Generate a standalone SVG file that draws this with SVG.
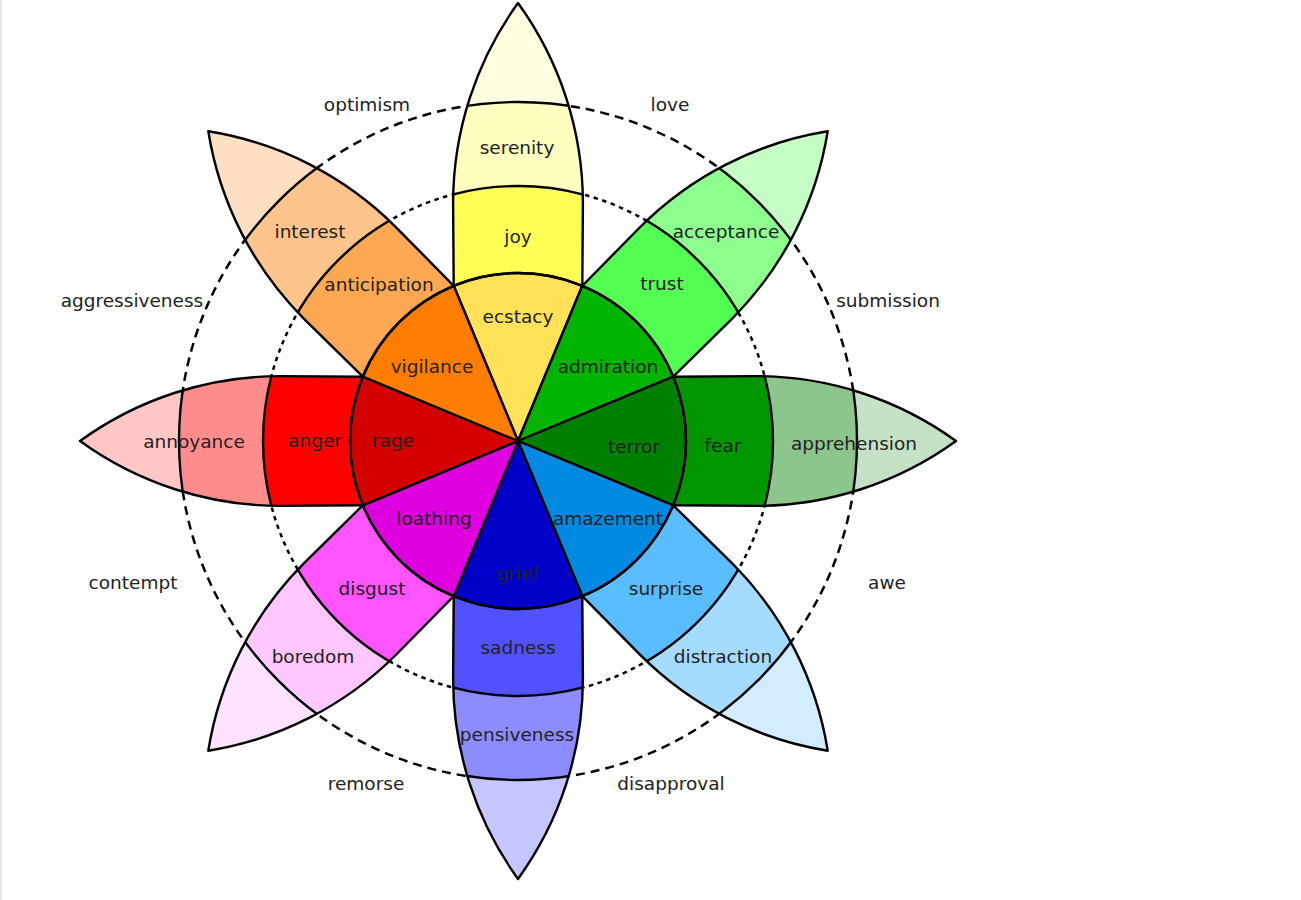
<svg xmlns="http://www.w3.org/2000/svg" xmlns:xlink="http://www.w3.org/1999/xlink" width="1301" height="900" viewBox="0 0 1301 900">
<style>
text{font-family:"DejaVu Sans","Liberation Sans",sans-serif;font-size:18.5px;fill:#222;text-anchor:middle}
.bd{fill:none;stroke:#000;stroke-width:2.4}
.ol{fill:none;stroke:#000;stroke-width:2.4;stroke-linejoin:round}
.wd{stroke:#000;stroke-width:2.4;stroke-linejoin:round}
.dash{fill:none;stroke:#000;stroke-width:2.5;stroke-dasharray:9 6}
.dot{fill:none;stroke:#000;stroke-width:2.5;stroke-dasharray:4.5 4.5}
</style>
<defs>
<path id="petal" d="M-64.29,-155.21 L-64.9,-237.7 A341.8,341.8 0 0 1 0,-438 A341.8,341.8 0 0 1 64.9,-237.7 L64.29,-155.21 Z"/>
<clipPath id="pc" clipPathUnits="userSpaceOnUse"><use xlink:href="#petal"/></clipPath>
<path id="wedge" d="M0,0 L-64.29,-155.21 A168,168 0 0 1 64.29,-155.21 Z"/>
</defs>
<rect x="0" y="0" width="1301" height="900" fill="#fff"/>
<line x1="0.8" y1="0" x2="0.8" y2="900" stroke="#e2ddd8" stroke-width="1.6"/>
<g id="guides">
<circle cx="518" cy="441" r="339" class="dash"/>
<circle cx="518" cy="441" r="255" class="dot"/>
</g>
<g id="petal-joy">
<g transform="translate(518 441) rotate(0)">
<use xlink:href="#petal" fill="#ffffdf"/>
<circle r="339" fill="#ffffc0" clip-path="url(#pc)"/>
<circle r="255" fill="#ffff54" clip-path="url(#pc)"/>
<circle r="339" class="bd" clip-path="url(#pc)"/>
<circle r="255" class="bd" clip-path="url(#pc)"/>
<use xlink:href="#petal" class="ol"/>
</g>
<text x="517" y="154">serenity</text>
<text x="518" y="243">joy</text>
</g>
<g id="petal-trust">
<g transform="translate(518 441) rotate(45)">
<use xlink:href="#petal" fill="#c6ffc6"/>
<circle r="339" fill="#8cff8c" clip-path="url(#pc)"/>
<circle r="255" fill="#54ff54" clip-path="url(#pc)"/>
<circle r="339" class="bd" clip-path="url(#pc)"/>
<circle r="255" class="bd" clip-path="url(#pc)"/>
<use xlink:href="#petal" class="ol"/>
</g>
<text x="726" y="238">acceptance</text>
<text x="662" y="290">trust</text>
</g>
<g id="petal-fear">
<g transform="translate(518 441) rotate(90)">
<use xlink:href="#petal" fill="#c6e2c6"/>
<circle r="339" fill="#8cc68c" clip-path="url(#pc)"/>
<circle r="255" fill="#009600" clip-path="url(#pc)"/>
<circle r="339" class="bd" clip-path="url(#pc)"/>
<circle r="255" class="bd" clip-path="url(#pc)"/>
<use xlink:href="#petal" class="ol"/>
</g>
<text x="723" y="452">fear</text>
<text x="854" y="450">apprehension</text>
</g>
<g id="petal-surprise">
<g transform="translate(518 441) rotate(135)">
<use xlink:href="#petal" fill="#d2edff"/>
<circle r="339" fill="#a5dbff" clip-path="url(#pc)"/>
<circle r="255" fill="#59bdff" clip-path="url(#pc)"/>
<circle r="339" class="bd" clip-path="url(#pc)"/>
<circle r="255" class="bd" clip-path="url(#pc)"/>
<use xlink:href="#petal" class="ol"/>
</g>
<text x="666" y="595">surprise</text>
<text x="723" y="663">distraction</text>
</g>
<g id="petal-sadness">
<g transform="translate(518 441) rotate(180)">
<use xlink:href="#petal" fill="#c6c6ff"/>
<circle r="339" fill="#8c8cff" clip-path="url(#pc)"/>
<circle r="255" fill="#5151ff" clip-path="url(#pc)"/>
<circle r="339" class="bd" clip-path="url(#pc)"/>
<circle r="255" class="bd" clip-path="url(#pc)"/>
<use xlink:href="#petal" class="ol"/>
</g>
<text x="518" y="654">sadness</text>
<text x="517" y="741">pensiveness</text>
</g>
<g id="petal-disgust">
<g transform="translate(518 441) rotate(225)">
<use xlink:href="#petal" fill="#ffe2ff"/>
<circle r="339" fill="#ffc6ff" clip-path="url(#pc)"/>
<circle r="255" fill="#ff54ff" clip-path="url(#pc)"/>
<circle r="339" class="bd" clip-path="url(#pc)"/>
<circle r="255" class="bd" clip-path="url(#pc)"/>
<use xlink:href="#petal" class="ol"/>
</g>
<text x="372" y="595">disgust</text>
<text x="313" y="663">boredom</text>
</g>
<g id="petal-anger">
<g transform="translate(518 441) rotate(270)">
<use xlink:href="#petal" fill="#ffc6c6"/>
<circle r="339" fill="#ff8c8c" clip-path="url(#pc)"/>
<circle r="255" fill="#ff0000" clip-path="url(#pc)"/>
<circle r="339" class="bd" clip-path="url(#pc)"/>
<circle r="255" class="bd" clip-path="url(#pc)"/>
<use xlink:href="#petal" class="ol"/>
</g>
<text x="194" y="448">annoyance</text>
<text x="315" y="447">anger</text>
</g>
<g id="petal-anticipation">
<g transform="translate(518 441) rotate(315)">
<use xlink:href="#petal" fill="#ffdfc4"/>
<circle r="339" fill="#ffc48c" clip-path="url(#pc)"/>
<circle r="255" fill="#ffa854" clip-path="url(#pc)"/>
<circle r="339" class="bd" clip-path="url(#pc)"/>
<circle r="255" class="bd" clip-path="url(#pc)"/>
<use xlink:href="#petal" class="ol"/>
</g>
<text x="310" y="238">interest</text>
<text x="379" y="291">anticipation</text>
</g>
<g id="core">
<g id="wedge-ecstacy"><use xlink:href="#wedge" class="wd" fill="#ffe257" transform="translate(518 441) rotate(0)"/><text x="518" y="323">ecstacy</text></g>
<g id="wedge-admiration"><use xlink:href="#wedge" class="wd" fill="#00b400" transform="translate(518 441) rotate(45)"/><text x="608" y="373">admiration</text></g>
<g id="wedge-terror"><use xlink:href="#wedge" class="wd" fill="#008000" transform="translate(518 441) rotate(90)"/><text x="634" y="453">terror</text></g>
<g id="wedge-amazement"><use xlink:href="#wedge" class="wd" fill="#0089e0" transform="translate(518 441) rotate(135)"/><text x="608" y="525">amazement</text></g>
<g id="wedge-grief"><use xlink:href="#wedge" class="wd" fill="#0000c8" transform="translate(518 441) rotate(180)"/><text x="518" y="580">grief</text></g>
<g id="wedge-loathing"><use xlink:href="#wedge" class="wd" fill="#de00de" transform="translate(518 441) rotate(225)"/><text x="434" y="525">loathing</text></g>
<g id="wedge-rage"><use xlink:href="#wedge" class="wd" fill="#d40000" transform="translate(518 441) rotate(270)"/><text x="393" y="447">rage</text></g>
<g id="wedge-vigilance"><use xlink:href="#wedge" class="wd" fill="#ff7d00" transform="translate(518 441) rotate(315)"/><text x="432" y="373">vigilance</text></g>
<circle cx="518" cy="441" r="168" fill="none" stroke="#000" stroke-width="2.4"/>
</g>
<g id="dyads">
<text x="367" y="111">optimism</text>
<text x="670" y="111">love</text>
<text x="888" y="307">submission</text>
<text x="887" y="589">awe</text>
<text x="671" y="790">disapproval</text>
<text x="366" y="790">remorse</text>
<text x="133" y="589">contempt</text>
<text x="132" y="307">aggressiveness</text>
</g>
</svg>
